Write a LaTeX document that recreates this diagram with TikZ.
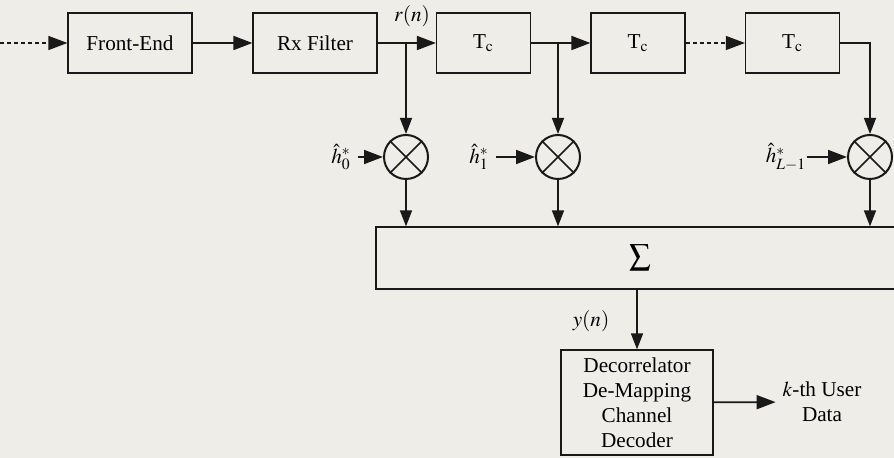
\documentclass[tikz,border=0pt]{standalone}
\usepackage{mathptmx}
\usepackage[no-math]{fontspec}
\setmainfont{Liberation Serif}
\usetikzlibrary{arrows.meta, positioning, calc}
\definecolor{paper}{RGB}{238,237,231}
\definecolor{ink}{RGB}{25,25,25}
\tikzset{
  block/.style={rectangle, draw=ink, line width=0.6pt,
    minimum width=62pt, minimum height=30pt, inner sep=0pt},
  delay/.style={block, minimum width=47pt},
  mixer/.style={circle, draw=ink, line width=1pt,
    minimum size=22pt, inner sep=0pt},
  sumbox/.style={block, minimum width=264pt, minimum height=31pt},
  decbox/.style={block, minimum width=76pt, minimum height=52.5pt, align=center},
  sig/.style={-{Triangle[length=9.5pt, width=7pt]}, line width=0.9pt, color=ink},
  dashsig/.style={sig, line width=0.6pt, dash pattern=on 2pt off 1.5pt},
  tap/.style={-{Triangle[length=8pt, width=6pt]}, line width=0.7pt, color=ink}
}

\begin{document}
\begin{tikzpicture}[x=0.5pt, y=-0.5pt, font=\fontsize{10.6pt}{12.5pt}\selectfont]
  \path[use as bounding box, fill=paper] (0,0) rectangle (894,458);
  \clip (0,0) rectangle (894,458);

  % Nodes
  \coordinate (in) at (0,43);
  \node[block] (fe) at (130,43) {Front-End};
  \node[block] (rx) at (315,43) {Rx Filter};
  \node[delay] (d0) at (483.5,43) {T$_{\mathrm{c}}$};
  \node[delay] (d1) at (638,43) {T$_{\mathrm{c}}$};
  \node[delay] (d2) at (792.5,43) {T$_{\mathrm{c}}$};

  % Multipliers
  \node[mixer] (m0) at (406,157) {};
  \node[mixer] (m1) at (558,157) {};
  \node[mixer] (m2) at (870,157) {};
  \foreach \m in {m0,m1,m2}
    \draw[ink, line width=0.8pt] (\m.45) -- (\m.225) (\m.135) -- (\m.315);

  % Channel estimates
  \node (h0) at (341,157) {$\hat{h}_0^*$};
  \node (h1) at (479,157) {$\hat{h}_1^*$};
  \node[inner sep=0pt] (h2) at (786,157) {$\hat{h}_{L-1}^*$};

  % Sum and decoder
  \node[sumbox] (sum) at (640,258) {$\displaystyle\sum$};
  \node[decbox] (dec) at (637,402.5) {Decorrelator\\De-Mapping\\Channel\\Decoder};
  \node[align=center] (out) at (822,402) {$k$-th User\\Data};

  % Taps
  \coordinate (t0) at (m0 |- rx);
  \coordinate (t1) at (m1 |- d0);

  % Connections along main line
  \draw[dashsig] (in) -- (fe);
  \draw[sig] (fe) -- (rx);
  \draw[sig] (rx) -- (d0);
  \draw[sig] (d0) -- (d1);
  \draw[dashsig] (d1) -- (d2);
  \draw[tap] (d2) -| (m2);
  \draw[tap] (t0) -- (m0);
  \draw[tap] (t1) -- (m1);

  % Weights into multipliers
  \draw[sig] (h0) -- (m0);
  \draw[sig] (h1) -- (m1);
  \draw[sig] (h2) -- (m2);

  % Multipliers to sum
  \foreach \m in {m0,m1,m2}
    \draw[tap] (\m) -- (\m |- sum.north);

  % Sum to decoder to output
  \draw[tap] (dec |- sum.south) -- (dec);
  \draw[sig] (dec) -- (out);

  % Labels
  \node (rn) at (412,16) {$r(n)$};
  \node (yn) at (591,321) {$y(n)$};
\end{tikzpicture}
\end{document}
